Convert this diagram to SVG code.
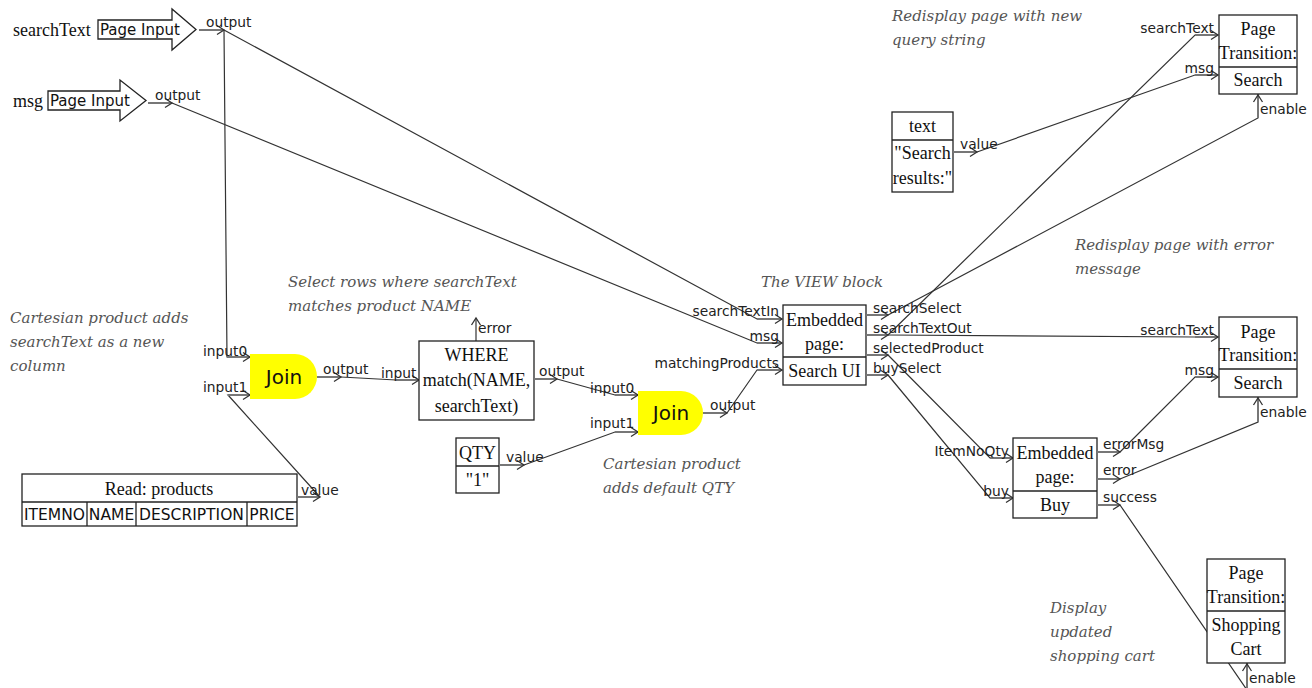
<svg xmlns="http://www.w3.org/2000/svg" width="1312" height="688" viewBox="0 0 1312 688">
  <defs>
    <marker id="chev" markerUnits="userSpaceOnUse" markerWidth="10" markerHeight="10" refX="7" refY="4.5" orient="auto" overflow="visible">
      <path d="M0,0 L7,4.5 L0,9" fill="none" stroke="#333" stroke-width="1.3"/>
    </marker>
    <style>
      .box { fill: #fff; stroke: #222; stroke-width: 1.3; }
      .join { fill: #ffff00; stroke: none; }
      .stub { fill: none; stroke: #777; stroke-width: 2; marker-end: url(#chev); }
      .wire { fill: none; stroke: #333; stroke-width: 1.2; }
      .wire-end { fill: none; stroke: #333; stroke-width: 1.2; marker-end: url(#chev); }
      .serif { font-family: "Liberation Serif", "Times New Roman", serif; font-size: 18px; fill: #111; }
      .sans { font-family: "DejaVu Sans", Verdana, sans-serif; fill: #111; }
      .port { font-family: "DejaVu Sans", Verdana, sans-serif; font-size: 13.8px; fill: #222; }
      .note { font-family: "DejaVu Serif", Georgia, serif; font-style: italic; font-size: 15px; fill: #555; }
      .mid { text-anchor: middle; }
      .end { text-anchor: end; }
    </style>
  </defs>
  <rect width="1312" height="688" fill="#fff"/>

  <!-- annotations -->
  <g id="notes">
    <text class="note" x="892" y="21">Redisplay page with new</text>
    <text class="note" x="892" y="45">query string</text>
    <text class="note" x="1075" y="250">Redisplay page with error</text>
    <text class="note" x="1075" y="274">message</text>
    <text class="note" x="761" y="287">The VIEW block</text>
    <text class="note" x="288" y="287">Select rows where searchText</text>
    <text class="note" x="288" y="311">matches product NAME</text>
    <text class="note" x="10" y="323">Cartesian product adds</text>
    <text class="note" x="10" y="347">searchText as a new</text>
    <text class="note" x="10" y="371">column</text>
    <text class="note" x="603" y="469">Cartesian product</text>
    <text class="note" x="603" y="493">adds default QTY</text>
    <text class="note" x="1050" y="613">Display</text>
    <text class="note" x="1050" y="637">updated</text>
    <text class="note" x="1050" y="661">shopping cart</text>
  </g>

  <!-- connectors between ports -->
  <g id="connectors">
    <polyline class="wire" points="224,30 227,357 250,357"/>
    <polyline class="wire" points="224,30 757,319 782,319"/>
    <polyline class="wire" points="172,103 757,343 782,343"/>
    <polyline class="wire" points="320,497 228,395 250,395"/>
    <polyline class="wire" points="341,377 396,380 419,380"/>
    <polyline class="wire" points="557,379 615,395 638,395"/>
    <polyline class="wire" points="524,465 615,432 638,432"/>
    <polyline class="wire" points="727,413 757,370 782,370"/>
    <polyline class="wire" points="888,315 1258,118 1258,94"/>
    <polyline class="wire" points="888,335 1195,35 1218,35"/>
    <polyline class="wire" points="888,335 1195,337 1218,337"/>
    <polyline class="wire" points="977,152 1195,75 1218,75"/>
    <polyline class="wire" points="888,355 990,458 1013,458"/>
    <polyline class="wire" points="888,375 990,498 1013,498"/>
    <polyline class="wire" points="1120,452 1195,377 1218,377"/>
    <polyline class="wire" points="1120,479 1258,422 1258,397"/>
    <polyline class="wire" points="1120,505 1247,690 1247,663"/>
    <line class="wire-end" x1="476" y1="341" x2="476" y2="318"/>
  </g>

  <!-- input stubs with arrowheads -->
  <g id="input-stubs">
    <line class="stub" x1="227" y1="357" x2="250" y2="357"/>
    <line class="stub" x1="228" y1="395" x2="250" y2="395"/>
    <line class="stub" x1="396" y1="380" x2="419" y2="380"/>
    <line class="stub" x1="615" y1="395" x2="638" y2="395"/>
    <line class="stub" x1="615" y1="432" x2="638" y2="432"/>
    <line class="stub" x1="757" y1="319" x2="782" y2="319"/>
    <line class="stub" x1="757" y1="343" x2="782" y2="343"/>
    <line class="stub" x1="757" y1="370" x2="782" y2="370"/>
    <line class="stub" x1="1195" y1="35" x2="1218" y2="35"/>
    <line class="stub" x1="1195" y1="75" x2="1218" y2="75"/>
    <line class="stub" x1="1258" y1="118" x2="1258" y2="95"/>
    <line class="stub" x1="1195" y1="337" x2="1218" y2="337"/>
    <line class="stub" x1="1195" y1="377" x2="1218" y2="377"/>
    <line class="stub" x1="1258" y1="422" x2="1258" y2="398"/>
    <line class="stub" x1="990" y1="458" x2="1013" y2="458"/>
    <line class="stub" x1="990" y1="498" x2="1013" y2="498"/>
    <line class="stub" x1="1247" y1="688" x2="1247" y2="664"/>
  </g>

  <g id="page-input-searchText">
    <text class="serif" x="13" y="36">searchText</text>
    <path class="box" d="M98,20 H172 V9 L196,29.5 L172,50 V39 H98 Z"/>
    <text class="sans" x="100" y="35" font-size="15">Page Input</text>
    <line class="stub" x1="199" y1="30" x2="224" y2="30"/>
    <text class="port" x="206" y="27">output</text>
  </g>

  <g id="page-input-msg">
    <text class="serif" x="13" y="107">msg</text>
    <path class="box" d="M48,91 H120 V80 L146,100.5 L120,121 V110 H48 Z"/>
    <text class="sans" x="50" y="106" font-size="15">Page Input</text>
    <line class="stub" x1="148" y1="103" x2="172" y2="103"/>
    <text class="port" x="155" y="100">output</text>
  </g>

  <g id="read-products">
    <rect class="box" x="22" y="474" width="275" height="52"/>
    <line class="box" x1="22" y1="502" x2="297" y2="502"/>
    <line class="box" x1="87" y1="502" x2="87" y2="526"/>
    <line class="box" x1="136" y1="502" x2="136" y2="526"/>
    <line class="box" x1="247" y1="502" x2="247" y2="526"/>
    <text class="serif mid" x="159" y="495">Read: products</text>
    <text class="sans mid" x="54.5" y="520" font-size="15.5">ITEMNO</text>
    <text class="sans mid" x="111.5" y="520" font-size="15.5">NAME</text>
    <text class="sans mid" x="191.5" y="520" font-size="15.5">DESCRIPTION</text>
    <text class="sans mid" x="272" y="520" font-size="15.5">PRICE</text>
    <line class="stub" x1="297" y1="497" x2="320" y2="497"/>
    <text class="port" x="301" y="495">value</text>
  </g>

  <g id="join-search">
    <path class="join" d="M250,354 H295 A22,22.5 0 0 1 295,399 H250 Z"/>
    <text class="sans mid" x="284" y="384" font-size="20">Join</text>
    <text class="port" x="203" y="356">input0</text>
    <text class="port" x="203" y="392">input1</text>
    <line class="stub" x1="317" y1="377" x2="341" y2="377"/>
    <text class="port" x="323" y="374">output</text>
  </g>

  <g id="where">
    <rect class="box" x="419" y="341" width="115" height="79"/>
    <text class="serif mid" x="476.5" y="361">WHERE</text>
    <text class="serif mid" x="476.5" y="386">match(NAME,</text>
    <text class="serif mid" x="476.5" y="412">searchText)</text>
    <text class="port" x="381" y="378">input</text>
    <text class="port" x="478" y="333">error</text>
    <line class="stub" x1="534" y1="379" x2="557" y2="379"/>
    <text class="port" x="539" y="376">output</text>
  </g>

  <g id="qty">
    <rect class="box" x="456" y="438" width="43" height="55"/>
    <line class="box" x1="456" y1="466" x2="499" y2="466"/>
    <text class="serif mid" x="477.5" y="459">QTY</text>
    <text class="serif mid" x="477.5" y="486">"1"</text>
    <line class="stub" x1="499" y1="465" x2="524" y2="465"/>
    <text class="port" x="506" y="462">value</text>
  </g>

  <g id="join-qty">
    <path class="join" d="M638,391 H681 A22,22 0 0 1 681,435 H638 Z"/>
    <text class="sans mid" x="671" y="420" font-size="20">Join</text>
    <text class="port" x="590" y="393">input0</text>
    <text class="port" x="590" y="428">input1</text>
    <line class="stub" x1="703" y1="413" x2="727" y2="413"/>
    <text class="port" x="710" y="410">output</text>
  </g>

  <g id="search-ui">
    <rect class="box" x="783" y="305" width="83" height="80"/>
    <line class="box" x1="783" y1="357" x2="866" y2="357"/>
    <text class="serif mid" x="824.5" y="326">Embedded</text>
    <text class="serif mid" x="824.5" y="350">page:</text>
    <text class="serif mid" x="824.5" y="377">Search UI</text>
    <text class="port end" x="779" y="316">searchTextIn</text>
    <text class="port end" x="779" y="341">msg</text>
    <text class="port end" x="779" y="368">matchingProducts</text>
    <line class="stub" x1="866" y1="315" x2="888" y2="315"/>
    <line class="stub" x1="866" y1="335" x2="888" y2="335"/>
    <line class="stub" x1="866" y1="355" x2="888" y2="355"/>
    <line class="stub" x1="866" y1="375" x2="888" y2="375"/>
    <text class="port" x="873" y="313">searchSelect</text>
    <text class="port" x="873" y="333">searchTextOut</text>
    <text class="port" x="873" y="353">selectedProduct</text>
    <text class="port" x="873" y="373">buySelect</text>
  </g>

  <g id="text-results">
    <rect class="box" x="892" y="112" width="61" height="80"/>
    <line class="box" x1="892" y1="140" x2="953" y2="140"/>
    <text class="serif mid" x="922.5" y="132">text</text>
    <text class="serif mid" x="922.5" y="159">"Search</text>
    <text class="serif mid" x="922.5" y="184">results:"</text>
    <line class="stub" x1="953" y1="152" x2="977" y2="152"/>
    <text class="port" x="960" y="149">value</text>
  </g>

  <g id="transition-search-top">
    <rect class="box" x="1219" y="15" width="78" height="79"/>
    <line class="box" x1="1219" y1="67" x2="1297" y2="67"/>
    <text class="serif mid" x="1258" y="35">Page</text>
    <text class="serif mid" x="1258" y="59">Transition:</text>
    <text class="serif mid" x="1258" y="86">Search</text>
    <text class="port end" x="1214" y="33">searchText</text>
    <text class="port end" x="1214" y="73">msg</text>
    <text class="port" x="1260" y="114">enable</text>
  </g>

  <g id="transition-search-error">
    <rect class="box" x="1219" y="317" width="78" height="80"/>
    <line class="box" x1="1219" y1="369" x2="1297" y2="369"/>
    <text class="serif mid" x="1258" y="338">Page</text>
    <text class="serif mid" x="1258" y="361">Transition:</text>
    <text class="serif mid" x="1258" y="389">Search</text>
    <text class="port end" x="1214" y="335">searchText</text>
    <text class="port end" x="1214" y="375">msg</text>
    <text class="port" x="1260" y="417">enable</text>
  </g>

  <g id="buy">
    <rect class="box" x="1013" y="438" width="84" height="80"/>
    <line class="box" x1="1013" y1="491" x2="1097" y2="491"/>
    <text class="serif mid" x="1055" y="459">Embedded</text>
    <text class="serif mid" x="1055" y="483">page:</text>
    <text class="serif mid" x="1055" y="511">Buy</text>
    <text class="port end" x="1009" y="456">ItemNoQty</text>
    <text class="port end" x="1009" y="496">buy</text>
    <line class="stub" x1="1097" y1="452" x2="1120" y2="452"/>
    <line class="stub" x1="1097" y1="479" x2="1120" y2="479"/>
    <line class="stub" x1="1097" y1="505" x2="1120" y2="505"/>
    <text class="port" x="1103" y="449">errorMsg</text>
    <text class="port" x="1103" y="475">error</text>
    <text class="port" x="1103" y="502">success</text>
  </g>

  <g id="transition-cart">
    <rect class="box" x="1207" y="559" width="78" height="104"/>
    <line class="box" x1="1207" y1="611" x2="1285" y2="611"/>
    <text class="serif mid" x="1246" y="579">Page</text>
    <text class="serif mid" x="1246" y="603">Transition:</text>
    <text class="serif mid" x="1246" y="631">Shopping</text>
    <text class="serif mid" x="1246" y="655">Cart</text>
    <text class="port" x="1249" y="683">enable</text>
  </g>
</svg>
